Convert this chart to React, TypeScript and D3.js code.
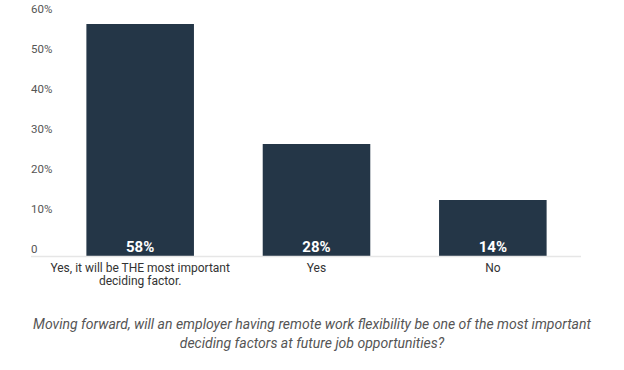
import React, { useRef, useEffect } from 'react';
import * as d3 from 'd3';

// answers and their shares (%)
const categories = ['Yes, it will be THE most important deciding factor.', 'Yes', 'No'];
const categoryLines = [['Yes, it will be THE most important', 'deciding factor.'], ['Yes'], ['No']];
const shares = [58, 28, 14];
const yTicks = [0, 10, 20, 30, 40, 50, 60];
const captionLines = [
    'Moving forward, will an employer having remote work flexibility be one of the most important',
    'deciding factors at future job opportunities?',
];

const WIDTH = 624;
const HEIGHT = 370;

const BarChart: React.FC = () => {
    const ref = useRef<SVGSVGElement>(null);

    useEffect(() => {
        if (ref.current) drawChart();
    }, []);

    const drawChart = () => {
        const svg = d3.select(ref.current);
        svg.selectAll('*').remove();
        const font = 'Roboto, "Noto Sans", sans-serif';

        const x = d3.scaleBand<string>()
            .domain(categories)
            .range([52, 581])
            .paddingInner(0.39)
            .paddingOuter(0.195);

        const y = d3.scaleLinear()
            .domain([0, 60])
            .range([256, 16]);

        // y labels sit just above their tick position
        svg.append('g')
            .selectAll('text')
            .data(yTicks)
            .enter().append('text')
            .attr('x', 31)
            .attr('y', d => y(d) - 3)
            .attr('font-family', font)
            .attr('font-size', 11.5)
            .attr('fill', '#555')
            .text(d => (d === 0 ? '0' : `${d}%`));

        const data = categories.map((c, i) => ({ c, v: shares[i], lines: categoryLines[i] }));

        svg.append('g')
            .selectAll('rect')
            .data(data)
            .enter().append('rect')
            .attr('x', d => x(d.c)!)
            .attr('y', d => y(d.v))
            .attr('width', x.bandwidth())
            .attr('height', d => y(0) - y(d.v))
            .attr('fill', '#243647');

        // baseline
        svg.append('line')
            .attr('x1', 31)
            .attr('x2', 581)
            .attr('y1', y(0) + 0.5)
            .attr('y2', y(0) + 0.5)
            .attr('stroke', '#e6e6e6')
            .attr('stroke-width', 1.5);

        // value labels inside bars
        svg.append('g')
            .selectAll('text')
            .data(data)
            .enter().append('text')
            .attr('x', d => x(d.c)! + x.bandwidth() / 2)
            .attr('y', y(0) - 4)
            .attr('text-anchor', 'middle')
            .attr('font-family', font)
            .attr('font-size', 15)
            .attr('font-weight', 'bold')
            .attr('fill', '#fff')
            .text(d => `${d.v}%`);

        // category labels
        const cat = svg.append('g')
            .selectAll('text')
            .data(data)
            .enter().append('text')
            .attr('x', d => x(d.c)! + x.bandwidth() / 2)
            .attr('y', y(0) + 16)
            .attr('text-anchor', 'middle')
            .attr('font-family', font)
            .attr('font-size', 12)
            .attr('fill', '#333');
        cat.selectAll('tspan')
            .data(d => d.lines)
            .enter().append('tspan')
            .attr('x', function () {
                return (this.parentNode as SVGTextElement).getAttribute('x');
            })
            .attr('dy', (_, i) => (i === 0 ? 0 : 13))
            .text(d => d);

        svg.append('g')
            .selectAll('text')
            .data(captionLines)
            .enter().append('text')
            .attr('x', WIDTH / 2)
            .attr('y', (_, i) => 329 + i * 19)
            .attr('text-anchor', 'middle')
            .attr('font-family', font)
            .attr('font-size', 14)
            .attr('font-style', 'italic')
            .attr('fill', '#555')
            .text(d => d);
    };

    return (
        <svg ref={ref} width={WIDTH} height={HEIGHT}
            style={{ position: 'absolute', left: 0, top: 0, background: '#fff' }} />
    );
};

export default function App() {
    return <BarChart />;
}
